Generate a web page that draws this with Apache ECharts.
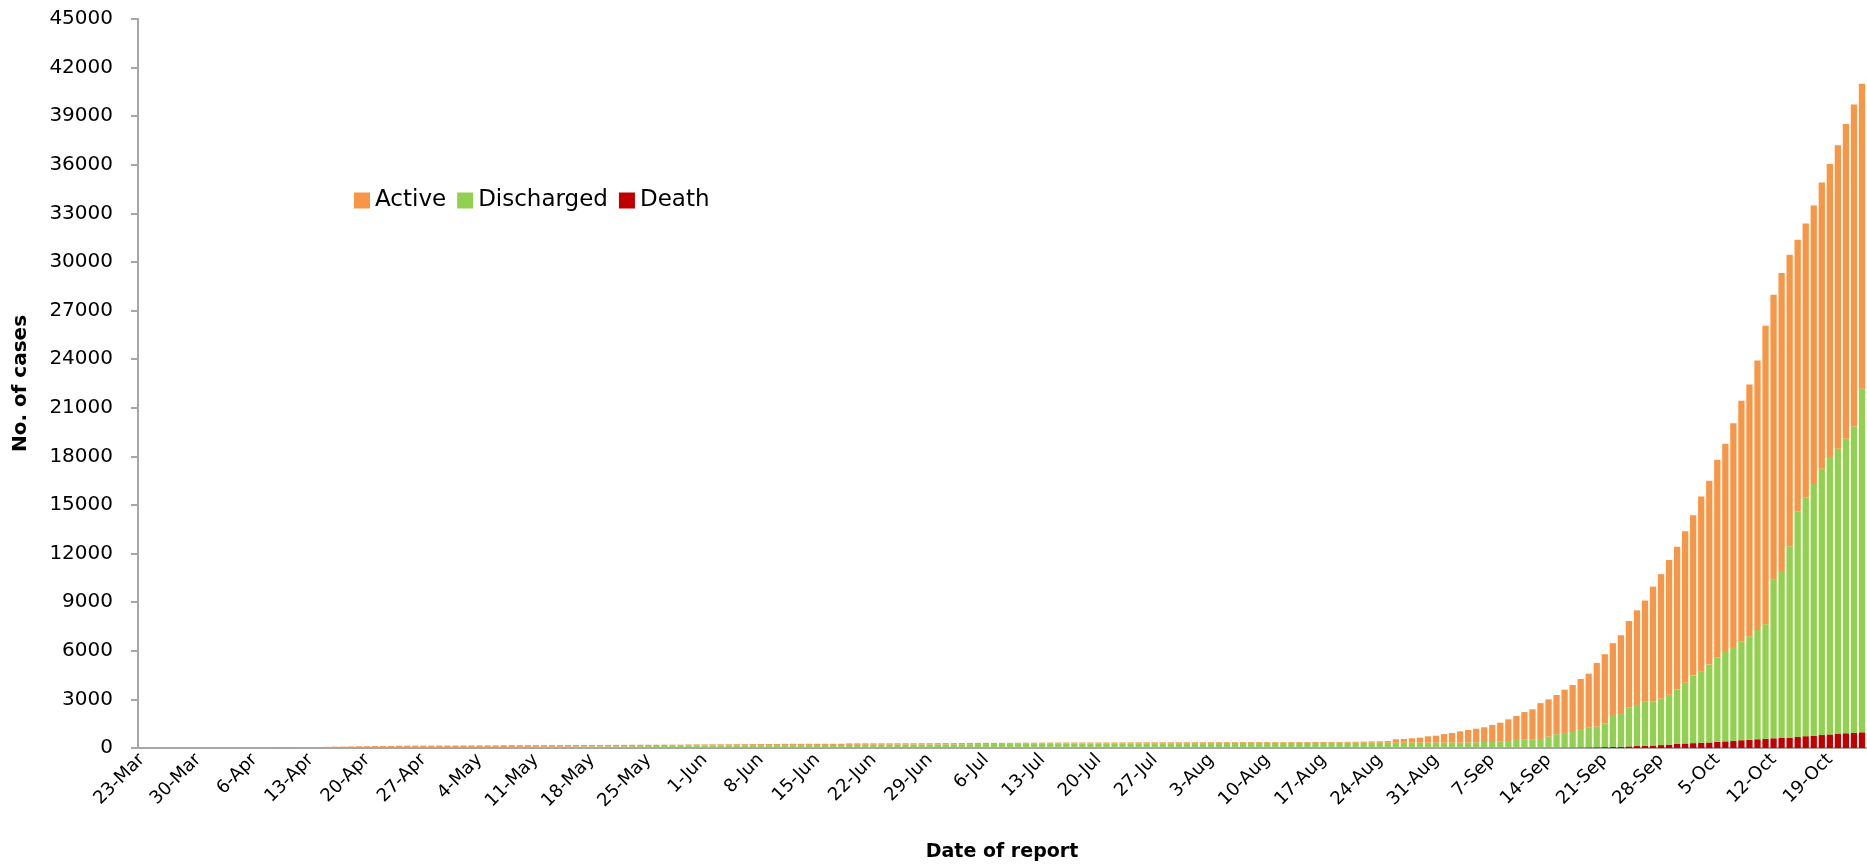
<!DOCTYPE html>
<html>
<head>
<meta charset="utf-8">
<script src="https://cdn.jsdelivr.net/npm/echarts@6/dist/echarts.min.js"></script>
<style>
html,body{margin:0;padding:0;background:#fff;}
#chart{width:1867px;height:868px;}
</style>
</head>
<body>
<div id="chart"></div>
<script>
// ---- data ----
const startDate = [2020, 2, 23]; // 23-Mar
const dayCount = 215;
const monthNames = ['Jan','Feb','Mar','Apr','May','Jun','Jul','Aug','Sep','Oct','Nov','Dec'];

const confirmed = [
2,3,3,5,8,10,10,14,15,
20,20,20,21,21,22,22,22,27,28,38,39,41,62,74,85,88,98,107,111,119,121,127,139,144,146,146,146,150,151,
151,155,161,161,161,162,171,176,177,178,180,180,180,181,182,184,185,187,188,191,192,193,199,201,201,203,206,207,207,220,224,
224,228,232,233,236,240,244,246,248,250,260,261,261,262,262,262,263,263,287,290,290,291,292,292,293,293,293,296,299,303,
304,304,308,313,316,317,317,317,318,321,326,331,332,336,336,339,339,340,341,341,343,343,346,348,350,351,351,351,351,353,353,
353,355,356,356,357,357,360,360,360,360,361,361,365,366,367,374,375,376,377,380,385,395,405,418,430,540,560,600,640,720,760,
860,930,1030,1110,1190,1280,1420,1560,1770,1980,2220,2390,2770,3000,3270,3600,3890,4260,4590,5250,5790,6470,6960,7840,8500,9100,9960,10730,11610,12420,
13380,14370,15520,16500,17790,18780,20050,21430,22440,23920,26070,27980,29320,30450,31380,32370,33480,34900,36050,37200,38520,39720,41010
];

const death = [
0,0,0,0,0,0,0,0,1,
1,1,1,1,1,1,1,3,3,3,4,4,4,4,4,4,4,5,5,5,5,5,5,5,5,5,5,5,5,5,
6,6,6,6,6,6,6,6,6,6,6,6,6,6,6,6,6,6,6,6,6,6,6,6,6,6,6,6,6,6,6,
6,6,6,6,6,6,6,6,6,6,6,6,6,6,6,6,6,6,6,6,6,6,6,6,6,6,6,6,6,6,
6,6,6,6,6,6,6,6,6,6,6,6,6,6,6,6,6,6,6,6,6,6,6,6,6,6,6,6,6,6,6,
6,6,6,6,6,6,6,6,6,6,6,6,6,6,6,6,6,6,6,6,6,6,6,6,6,6,6,6,6,6,6,
6,6,7,7,8,8,8,8,9,10,12,14,15,17,20,25,28,33,38,45,55,65,80,100,120,135,150,180,210,250,
280,300,320,340,380,410,430,480,510,540,560,600,620,640,680,730,760,800,840,870,910,930,970
];

const discharged = [
0,0,0,0,0,0,0,0,0,
0,0,0,0,0,0,0,2,2,2,2,2,2,4,4,5,5,7,7,7,10,10,13,17,19,25,26,34,34,40,
42,43,44,45,47,49,51,56,60,62,64,66,69,72,76,80,84,88,92,95,98,101,105,108,113,116,120,125,130,134,138,
142,146,148,150,153,156,158,161,163,166,168,170,172,174,176,178,180,182,185,188,191,194,196,199,202,205,208,211,214,216,
218,222,226,230,234,238,242,245,248,251,254,256,258,260,262,264,266,269,272,275,277,279,281,283,285,287,289,290,291,293,295,
296,297,298,299,300,301,302,303,304,305,306,307,308,309,310,311,312,313,314,315,316,317,318,319,320,321,322,322,323,323,324,
324,325,325,326,342,362,362,382,421,490,528,528,545,683,830,905,962,1137,1212,1275,1465,1975,2080,2410,2540,2720,2730,2870,3080,3370,
3750,4170,4390,4810,5220,5580,5810,6110,6390,6750,7080,9780,10310,11820,13940,14750,15530,16430,17130,17600,18180,18920,21200
];

// build category labels (dates)
const categories = [];
for (let i = 0; i < dayCount; i++) {
  const d = new Date(Date.UTC(startDate[0], startDate[1], startDate[2] + i));
  categories.push(d.getUTCDate() + '-' + monthNames[d.getUTCMonth()]);
}
const active = confirmed.map((c, i) => c - discharged[i] - death[i]);

const FONT = 'DejaVu Sans';
const chart = echarts.init(document.getElementById('chart'));
chart.setOption({
  animation: false,
  backgroundColor: '#ffffff',
  textStyle: { fontFamily: FONT },
  grid: { left: 138, right: 1, top: 19, bottom: 120, containLabel: false },
  legend: {
    data: ['Active', 'Discharged', 'Death'],
    left: 349, top: 184,
    icon: 'rect', itemWidth: 16, itemHeight: 16, itemGap: 11,
    textStyle: { fontFamily: FONT, fontSize: 23, color: '#000' }
  },
  xAxis: {
    type: 'category',
    data: categories,
    name: 'Date of report',
    nameLocation: 'middle',
    nameGap: 95,
    nameTextStyle: { fontFamily: FONT, fontSize: 19, fontWeight: 'bold', color: '#000' },
    axisLine: { show: true, lineStyle: { color: '#a6a6a6', width: 2 } },
    axisTick: { show: false },
    axisLabel: { interval: 6, rotate: 45, fontFamily: FONT, fontSize: 18, color: '#000', margin: 9 }
  },
  yAxis: {
    type: 'value',
    min: 0, max: 45000, interval: 3000,
    name: 'No. of cases',
    nameLocation: 'middle',
    nameGap: 107,
    nameTextStyle: { fontFamily: FONT, fontSize: 20, fontWeight: 'bold', color: '#000' },
    axisLine: { show: true, lineStyle: { color: '#a6a6a6', width: 2 } },
    axisTick: { show: true, inside: false, length: 7, lineStyle: { color: '#a6a6a6', width: 2 } },
    splitLine: { show: false },
    axisLabel: { fontFamily: FONT, fontSize: 20, color: '#000', margin: 25, formatter: v => String(v) }
  },
  series: [
    { name: 'Death', type: 'bar', stack: 'total', data: death, barCategoryGap: '22%', itemStyle: { color: '#C00000' } },
    { name: 'Discharged', type: 'bar', stack: 'total', data: discharged, itemStyle: { color: '#92D050' } },
    { name: 'Active', type: 'bar', stack: 'total', data: active, itemStyle: { color: '#F79646' } }
  ]
});
</script>
</body>
</html>
